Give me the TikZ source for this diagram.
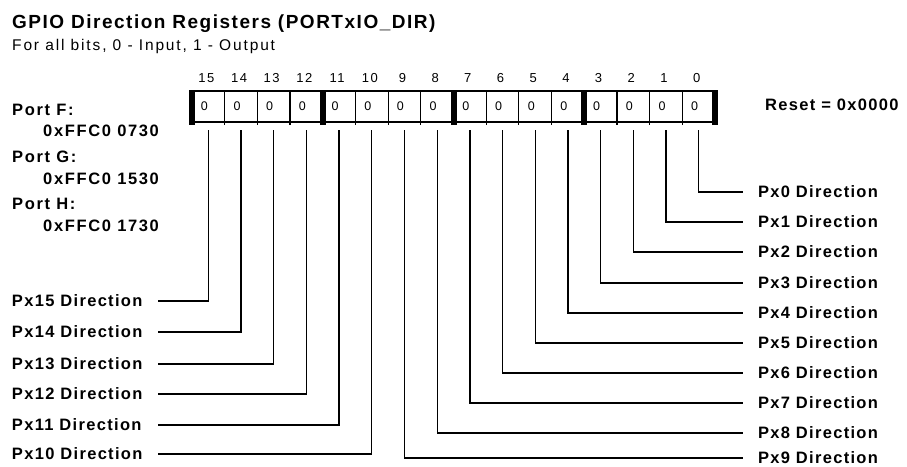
\documentclass[tikz,border=0pt]{standalone}
\usepackage{fontspec}
\setmainfont{Liberation Sans}
\newfontfamily\trklab[LetterSpace=8]{Liberation Sans}
\newfontfamily\trkport[LetterSpace=10]{Liberation Sans}
\newfontfamily\trksub[LetterSpace=12]{Liberation Sans}
\newfontfamily\trksmall[LetterSpace=12]{Liberation Sans}
\newfontfamily\trkt[LetterSpace=8]{Liberation Sans}
\begin{document}
\begin{tikzpicture}[x=1pt,y=-1pt,
  titletext/.style={anchor=base west, inner sep=0, font=\trkt\bfseries\fontsize{19}{21}\selectfont},
  subtext/.style={anchor=base west, inner sep=0, font=\trksub\fontsize{15.5}{17}\selectfont},
  porttext/.style={anchor=west, inner sep=0, font=\trkport\bfseries\fontsize{16.5}{18}\selectfont},
  leftlab/.style={anchor=west, inner sep=0, outer xsep=16pt, font=\trklab\bfseries\fontsize{16.5}{18}\selectfont},
  rightlab/.style={anchor=west, inner sep=0, outer xsep=15pt, font=\trklab\bfseries\fontsize{16.5}{18}\selectfont},
  bitnum/.style={inner sep=0, font=\trksmall\fontsize{13}{15}\selectfont},
  bitval/.style={inner sep=0, font=\trksmall\fontsize{12.5}{14}\selectfont},
  boxline/.style={line width=1.2pt},
  thickbar/.style={fill=black},
  lead/.style={line width=1.3pt}
]
\useasboundingbox (0,0) rectangle (907,466);

% titles
\node[titletext] (title) at (12,28) {GPIO Direction Registers (PORTxIO\_DIR)};
\node[subtext] (sub) at (12,50) {For all bits, 0 - Input, 1 - Output};

% port addresses
\node[porttext] (pf) at (12,110) {Port F:};
\node[porttext] (pfa) at (43,131) {0xFFC0 0730};
\node[porttext] (pg) at (12,157) {Port G:};
\node[porttext] (pga) at (43,179) {0xFFC0 1530};
\node[porttext] (ph) at (12,204) {Port H:};
\node[porttext] (pha) at (43,226) {0xFFC0 1730};

\node[porttext, font=\trklab\bfseries\fontsize{16.5}{18}\selectfont] (reset) at (765,105) {Reset = 0x0000};

% register frame
\draw[boxline] (192,91) -- (715,91);
\draw[boxline] (192,122) -- (715,122);
\foreach \k in {1,2,3,5,6,7,9,10,11,13,14,15} {
  \draw[boxline] ({192+32.6875*\k},91) -- ({192+32.6875*\k},125);
}
\foreach \k in {0,4,8,12,16} {
  \fill[thickbar] ({192+32.6875*\k-3},90) rectangle ({192+32.6875*\k+3},125);
}

% bit numbers, values, and leader start points
\foreach \b in {0,...,15} {
  \pgfmathsetmacro{\cx}{192+32.6875*(15-\b+0.5)}
  \node[bitnum] (n\b) at (\cx-2,78) {\b};
  \node[bitval] (v\b) at (\cx-4,106) {0};
  \coordinate (B\b) at (\cx,130);
}

% left labels
\foreach \b/\y in {15/301,14/332,13/364,12/394,11/425,10/454} {
  \node[leftlab] (L\b) at (-4,\y) {Px\b\ Direction};
  \draw[lead] (B\b) |- (L\b);
}

% right labels
\foreach \b/\y in {0/192,1/222,2/252,3/283,4/313,5/343,6/373,7/403,8/433,9/458} {
  \node[rightlab] (R\b) at (743,\y) {Px\b\ Direction};
  \draw[lead] (B\b) |- (R\b);
}
\end{tikzpicture}
\end{document}
